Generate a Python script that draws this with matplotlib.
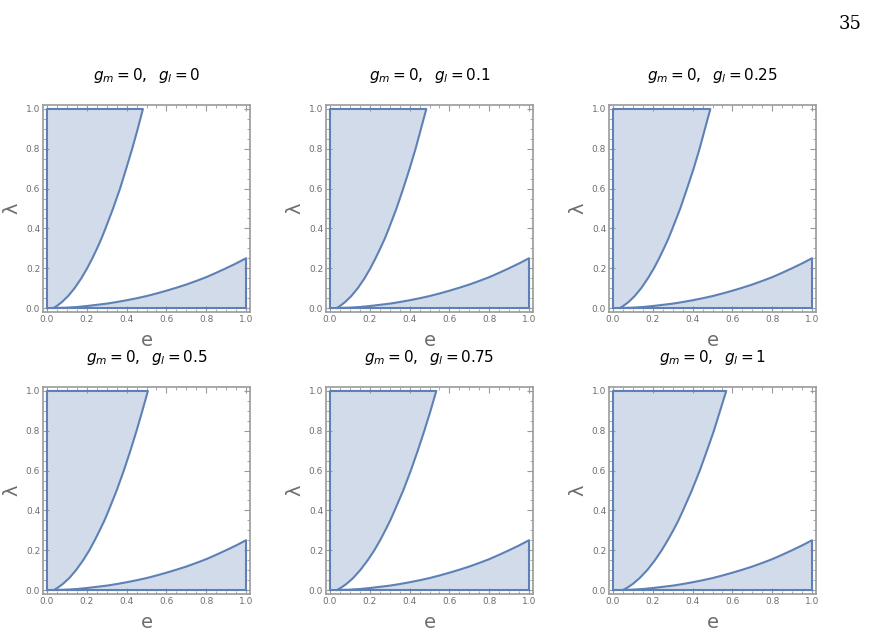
import matplotlib
matplotlib.use('Agg')
import matplotlib.pyplot as plt
from matplotlib.ticker import MultipleLocator

plt.rcParams['mathtext.fontset'] = 'dejavusans'

# panel parameters
g_l = ['0', '0.1', '0.25', '0.5', '0.75', '1']

# upper boundary: lambda levels and e values
lam_up = [0, 0.01, 0.03, 0.06, 0.1, 0.15, 0.2, 0.25, 0.3, 0.35, 0.4, 0.5, 0.6, 0.7, 0.8, 0.9, 1.0]
e_up = [
    [0.033, 0.049, 0.075, 0.106, 0.139, 0.173, 0.202, 0.228, 0.252, 0.274, 0.294, 0.332, 0.367, 0.398, 0.428, 0.456, 0.482],
    [0.034, 0.050, 0.076, 0.107, 0.140, 0.174, 0.203, 0.229, 0.253, 0.276, 0.296, 0.334, 0.368, 0.400, 0.430, 0.457, 0.484],
    [0.035, 0.051, 0.078, 0.109, 0.142, 0.176, 0.206, 0.232, 0.256, 0.279, 0.299, 0.338, 0.372, 0.405, 0.435, 0.462, 0.489],
    [0.035, 0.052, 0.079, 0.112, 0.146, 0.182, 0.213, 0.240, 0.265, 0.289, 0.310, 0.350, 0.386, 0.419, 0.450, 0.479, 0.507],
    [0.035, 0.053, 0.082, 0.116, 0.152, 0.190, 0.223, 0.252, 0.278, 0.303, 0.325, 0.368, 0.406, 0.441, 0.474, 0.505, 0.534],
    [0.050, 0.069, 0.099, 0.134, 0.172, 0.211, 0.245, 0.275, 0.303, 0.329, 0.352, 0.396, 0.436, 0.472, 0.507, 0.538, 0.569],
]

# lower boundary (same in every panel apart from the starting point)
e_low = [0.1, 0.15, 0.2, 0.25, 0.3, 0.35, 0.4, 0.45, 0.5, 0.55, 0.6, 0.65, 0.7, 0.75, 0.8, 0.85, 0.9, 0.95, 1.0]
lam_low = [0.002, 0.005, 0.01, 0.016, 0.022, 0.030, 0.039, 0.049, 0.06, 0.073, 0.087, 0.102,
           0.118, 0.136, 0.155, 0.177, 0.2, 0.224, 0.25]

line_c = '#5e81b5'
frame_c = '#9a9a9a'
text_c = '#6e6e6e'

fig = plt.figure(figsize=(8.81, 6.37), dpi=100)
fig.patch.set_facecolor('white')

lefts = [43, 326, 609]
tops = [105, 387]
W, H = 881, 637
size = 207

for i in range(6):
    r, c = divmod(i, 3)
    ax = fig.add_axes([lefts[c] / W, 1 - (tops[r] + size) / H, size / W, size / H])
    eu = e_up[i]
    e0 = eu[0]

    # upper-left region
    xs = [0] + eu + [0, 0]
    ys = [0] + lam_up + [1, 0]
    ax.fill(xs, ys, color=line_c, alpha=0.28, lw=0)
    ax.plot(xs, ys, color=line_c, lw=1.5, solid_joinstyle='round')

    # lower-right region
    xs = [e0] + e_low + [1, e0]
    ys = [0] + lam_low + [0, 0]
    ax.fill(xs, ys, color=line_c, alpha=0.28, lw=0)
    ax.plot(xs, ys, color=line_c, lw=1.5, solid_joinstyle='round')

    ax.set_xlim(-0.02, 1.02)
    ax.set_ylim(-0.02, 1.02)
    ax.xaxis.set_major_locator(MultipleLocator(0.2))
    ax.yaxis.set_major_locator(MultipleLocator(0.2))
    ax.xaxis.set_minor_locator(MultipleLocator(0.05))
    ax.yaxis.set_minor_locator(MultipleLocator(0.05))
    ax.xaxis.set_major_formatter(plt.FuncFormatter(lambda v, p: '%.1f' % v))
    ax.yaxis.set_major_formatter(plt.FuncFormatter(lambda v, p: '%.1f' % v))
    ax.tick_params(which='both', direction='in', top=True, right=True,
                   color=frame_c, labelcolor=text_c, labelsize=6.5, pad=2)
    ax.tick_params(which='major', length=4, width=0.8)
    ax.tick_params(which='minor', length=2, width=0.6)
    for s in ax.spines.values():
        s.set_color(frame_c)
        s.set_linewidth(1.2)

    ax.set_xlabel('e', color=text_c, fontsize=14, labelpad=5)
    ax.set_ylabel('λ', color=text_c, fontsize=14, labelpad=3)
    ax.set_title(r'$g_m = 0,\;\; g_l = %s$' % g_l[i], fontsize=11, pad=18)

fig.text(0.978, 0.963, '35', fontsize=13, family='DejaVu Serif', ha='right', va='center')

fig.savefig('out.png', dpi=100)
